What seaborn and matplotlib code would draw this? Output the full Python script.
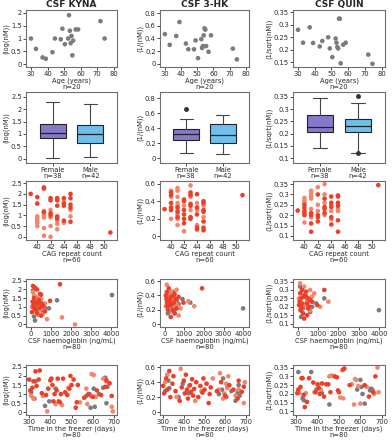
import numpy as np
import pandas as pd
import seaborn as sns
import matplotlib
matplotlib.use("Agg")
import matplotlib.pyplot as plt

sns.set_style("white")
plt.rcParams['font.family'] = ['DejaVu Sans']

GREY = "#7b7b7b"
RED = "#ef3e26"
PINK = "#f4856c"
PURPLE = "#8878c8"
BLUE = "#6fc0ec"

titles = ["CSF KYNA", "CSF 3-HK", "CSF QUIN"]
ylabels = ["(log(nM))", "(1/(nM))", "(1/sqrt(nM))"]

# ---- row 1: age (n=20)
age = [30, 33, 37, 39, 43, 44.5, 48, 49, 50.5, 52.5, 53, 53.5, 54, 54.5, 55, 55.5, 57, 58.5, 72, 74.5]
age_kyna = [1.0, 0.6, 0.27, 0.22, 0.47, 1.0, 0.97, 1.38, 0.78, 1.0, 1.9, 1.3, 0.82, 1.1, 0.35, 0.92, 1.35, 1.35, 1.67, 1.0]
age_3hk = [0.47, 0.3, 0.44, 0.66, 0.32, 0.23, 0.23, 0.37, 0.09, 0.39, 0.25, 0.28, 0.45, 0.56, 0.54, 0.28, 0.19, 0.45, 0.24, 0.07]
age_quin = [0.28, 0.228, 0.29, 0.227, 0.213, 0.235, 0.25, 0.205, 0.17, 0.245, 0.228, 0.21, 0.205, 0.325, 0.325, 0.145, 0.22, 0.228, 0.18, 0.143]

# ---- row 2: sex boxplots (whislo, q1, med, q3, whishi)
sex_labels = ["Female\nn=38", "Male\nn=42"]
box_kyna = [[0.02, 0.85, 1.05, 1.4, 2.3], [0.05, 0.65, 1.0, 1.38, 2.22]]
box_3hk = [[0.07, 0.25, 0.32, 0.39, 0.52], [0.06, 0.20, 0.31, 0.45, 0.58]]
box_quin = [[0.143, 0.208, 0.228, 0.275, 0.345], [0.122, 0.208, 0.232, 0.26, 0.327]]
fliers_kyna = [[], []]
fliers_3hk = [[0.66], []]
fliers_quin = [[], [0.352, 0.12]]

# ---- row 3: CAG repeat count (n=60)
cag_kyna_red = [(39, 2.0), (40, 1.85), (40, 1.55), (41, 2.3), (41, 2.25), (41, 1.15), (42, 1.8), (42, 1.7), (42, 1.1), (42, 1.0),
                (43, 1.8), (43, 1.7), (43, 1.45), (43, 0.95), (43, 0.85), (44, 1.8), (44, 1.55), (44, 1.45), (44, 0.75),
                (45, 2.0), (45, 1.8), (45, 1.5), (45, 1.35), (45, 0.7), (51, 0.2)]
cag_kyna_pink = [(40, 0.95), (40, 0.85), (40, 0.75), (40, 0.65), (40, 0.5), (41, 1.2), (41, 1.1), (41, 1.0), (41, 0.9),
                 (41, 0.4), (41, 0.05), (42, 1.25), (42, 0.9), (42, 0.5), (42, 0.0), (43, 0.75), (43, 0.6), (43, 0.35),
                 (44, 1.65), (44, 0.65), (45, 1.25), (45, 0.95)]
cag_3hk_red = [(39, 0.31), (40, 0.5), (40, 0.47), (40, 0.38), (40, 0.33), (40, 0.3), (41, 0.33), (41, 0.28), (41, 0.22),
               (42, 0.42), (42, 0.4), (42, 0.3), (42, 0.25), (42, 0.2), (42, 0.15), (43, 0.5), (43, 0.47), (43, 0.37),
               (43, 0.35), (43, 0.22), (43, 0.2), (44, 0.48), (44, 0.33), (44, 0.25), (44, 0.1), (44, 0.08),
               (45, 0.4), (45, 0.38), (45, 0.3), (45, 0.28), (45, 0.17), (45, 0.1), (45, 0.07), (51, 0.47)]
cag_3hk_pink = [(40, 0.52), (40, 0.45), (40, 0.2), (41, 0.55), (41, 0.52), (41, 0.45), (41, 0.38), (41, 0.35), (41, 0.3),
                (41, 0.25), (41, 0.2), (41, 0.13), (42, 0.35), (42, 0.06), (43, 0.58), (43, 0.45), (43, 0.3),
                (44, 0.38), (44, 0.3), (44, 0.13), (45, 0.35), (45, 0.22)]
cag_quin_red = [(39, 0.222), (40, 0.25), (40, 0.235), (40, 0.22), (40, 0.21), (40, 0.2), (41, 0.21), (41, 0.2), (41, 0.16),
                (41, 0.12), (42, 0.3), (42, 0.2), (42, 0.19), (42, 0.17), (43, 0.28), (43, 0.24), (43, 0.23), (43, 0.21),
                (44, 0.29), (44, 0.26), (44, 0.24), (44, 0.19), (44, 0.155), (45, 0.295), (45, 0.29), (45, 0.26),
                (45, 0.245), (45, 0.175), (45, 0.12), (51, 0.345)]
cag_quin_pink = [(40, 0.283), (40, 0.27), (40, 0.26), (40, 0.165), (41, 0.318), (41, 0.305), (41, 0.29), (41, 0.28),
                 (41, 0.23), (41, 0.19), (42, 0.335), (42, 0.25), (42, 0.22), (43, 0.35), (43, 0.3), (43, 0.26),
                 (43, 0.2), (44, 0.25), (44, 0.22), (44, 0.18), (45, 0.23), (45, 0.22)]

# ---- row 4: CSF haemoglobin (n=80)
hb_kyna_grey = [(4050, 1.68), (1300, 1.38), (900, 0.92), (700, 0.95), (500, 1.25), (300, 1.3), (200, 0.22), (150, 0.45),
                (100, 1.95), (600, 0.7), (400, 0.88), (250, 1.05)]
hb_kyna_red = [(1450, 2.3), (950, 1.35), (100, 2.2), (200, 2.1), (300, 2.0), (450, 1.75), (500, 1.7), (150, 1.5), (80, 1.3),
               (120, 1.1), (350, 1.2), (600, 1.05), (250, 0.85), (50, 0.7), (500, 0.5), (700, 0.75), (400, 1.4),
               (300, 0.65), (150, 0.95), (550, 1.15), (200, 1.25), (450, 0.95)]
hb_kyna_pink = [(2200, 0.0), (1550, 0.4), (800, 0.3), (600, 0.6), (100, 1.85), (300, 1.55), (400, 0.8), (50, 1.0),
                (200, 0.9), (350, 0.55), (700, 1.2), (450, 1.1), (500, 1.45), (250, 0.75), (150, 1.65), (600, 0.95)]
hb_3hk_grey = [(4000, 0.22), (1300, 0.3), (900, 0.35), (700, 0.28), (500, 0.2), (300, 0.25), (200, 0.4), (150, 0.15),
               (100, 0.3), (600, 0.33), (400, 0.45), (250, 0.18)]
hb_3hk_red = [(1900, 0.5), (950, 0.3), (100, 0.45), (200, 0.5), (300, 0.38), (450, 0.3), (500, 0.42), (150, 0.2), (80, 0.35),
              (120, 0.25), (350, 0.28), (600, 0.22), (250, 0.33), (50, 0.4), (500, 0.15), (700, 0.38), (400, 0.2),
              (300, 0.1), (150, 0.3), (550, 0.35), (200, 0.27), (450, 0.4)]
hb_3hk_pink = [(1200, 0.32), (1500, 0.25), (800, 0.22), (600, 0.48), (100, 0.55), (300, 0.45), (400, 0.35), (50, 0.25),
               (200, 0.36), (350, 0.18), (700, 0.12), (450, 0.26), (500, 0.3), (250, 0.42), (150, 0.38), (600, 0.27)]
hb_quin_grey = [(4000, 0.18), (1300, 0.25), (900, 0.22), (700, 0.2), (500, 0.24), (300, 0.21), (200, 0.3), (150, 0.14),
                (100, 0.32), (600, 0.17), (400, 0.26), (250, 0.19)]
hb_quin_red = [(1300, 0.3), (950, 0.21), (100, 0.28), (200, 0.3), (300, 0.26), (450, 0.22), (500, 0.25), (150, 0.2),
               (80, 0.23), (120, 0.18), (350, 0.27), (600, 0.24), (250, 0.16), (50, 0.21), (500, 0.19), (700, 0.23),
               (400, 0.29), (300, 0.13), (150, 0.25), (550, 0.2), (200, 0.22), (450, 0.15)]
hb_quin_pink = [(1100, 0.2), (1500, 0.23), (800, 0.28), (600, 0.3), (100, 0.34), (300, 0.32), (400, 0.22), (50, 0.25),
                (200, 0.17), (350, 0.21), (700, 0.26), (450, 0.24), (500, 0.2), (250, 0.27), (150, 0.22), (600, 0.18)]

# ---- row 5: time in freezer (n=80)
frz_kyna_red = [(300, 1.8), (305, 1.2), (315, 1.35), (320, 1.7), (330, 2.25), (335, 1.45), (345, 1.8), (350, 2.3), (360, 1.05),
                (380, 0.95), (390, 1.3), (400, 1.75), (405, 1.85), (410, 1.5), (415, 0.6), (420, 1.0), (430, 1.2),
                (435, 1.85), (440, 0.6), (445, 0.55), (450, 1.0), (460, 1.85), (470, 1.1), (480, 0.95), (490, 1.3),
                (495, 2.0), (500, 1.5), (510, 1.8), (520, 0.25), (525, 0.55), (530, 1.5), (560, 0.8), (580, 1.0),
                (600, 0.85), (620, 1.2), (640, 0.95), (660, 1.4), (665, 1.75), (680, 1.6), (690, 0.9)]
frz_kyna_pink = [(310, 0.9), (320, 0.75), (365, 0.9), (385, 0.05), (425, 0.45), (455, 0.4), (485, 1.35), (540, 0.55),
                 (570, 1.3), (575, 0.45), (590, 0.9), (595, 2.1), (605, 2.05), (610, 0.85), (615, 0.85), (650, 1.85),
                 (665, 1.7), (690, 0.3), (695, 0.05)]
frz_kyna_grey = [(310, 1.1), (325, 0.75), (330, 1.7), (375, 0.35), (425, 1.3), (395, 0.6), (570, 0.9), (585, 1.0),
                 (590, 0.25), (605, 1.3), (610, 0.3), (630, 1.0), (650, 1.35), (660, 1.9), (665, 0.5), (670, 1.4)]
frz_3hk_red = [(300, 0.35), (305, 0.25), (315, 0.45), (320, 0.3), (330, 0.55), (335, 0.2), (345, 0.38), (350, 0.48),
               (360, 0.28), (380, 0.15), (390, 0.33), (400, 0.42), (405, 0.25), (410, 0.5), (415, 0.3), (420, 0.18),
               (430, 0.36), (435, 0.27), (440, 0.44), (445, 0.22), (450, 0.31), (460, 0.4), (470, 0.2), (480, 0.35),
               (490, 0.26), (495, 0.45), (500, 0.3), (510, 0.38), (520, 0.12), (525, 0.24), (530, 0.33), (560, 0.28),
               (580, 0.4), (600, 0.22), (620, 0.36), (640, 0.3), (660, 0.18), (665, 0.42), (680, 0.27), (690, 0.34)]
frz_3hk_pink = [(310, 0.4), (320, 0.5), (365, 0.2), (385, 0.58), (425, 0.35), (455, 0.15), (485, 0.28), (540, 0.45),
                (570, 0.3), (575, 0.52), (590, 0.18), (595, 0.25), (605, 0.38), (610, 0.32), (615, 0.48), (650, 0.22),
                (665, 0.3), (690, 0.12), (695, 0.4)]
frz_3hk_grey = [(310, 0.28), (325, 0.42), (330, 0.32), (375, 0.2), (425, 0.25), (395, 0.38), (570, 0.24), (585, 0.3),
                (590, 0.45), (605, 0.2), (610, 0.35), (630, 0.28), (650, 0.15), (660, 0.26), (665, 0.36), (670, 0.22)]
frz_quin_grey = [(310, 0.325), (330, 0.175), (335, 0.165), (370, 0.325), (395, 0.225), (420, 0.205), (455, 0.14), (585, 0.225),
                 (600, 0.28), (605, 0.24), (610, 0.2), (620, 0.145), (645, 0.22), (650, 0.23), (655, 0.225)]
frz_quin_red = [(305, 0.205), (310, 0.225), (320, 0.24), (325, 0.29), (330, 0.29), (335, 0.195), (340, 0.125), (350, 0.155),
                (360, 0.29), (380, 0.265), (390, 0.21), (400, 0.255), (405, 0.235), (410, 0.2), (420, 0.26), (430, 0.185),
                (440, 0.255), (450, 0.255), (460, 0.21), (480, 0.3), (490, 0.295), (495, 0.22), (500, 0.21), (520, 0.34),
                (525, 0.345), (550, 0.25), (620, 0.25), (640, 0.185), (660, 0.21), (670, 0.3)]
frz_quin_pink = [(315, 0.205), (345, 0.205), (385, 0.21), (415, 0.225), (455, 0.3), (465, 0.305), (505, 0.18), (515, 0.335),
                 (520, 0.175), (560, 0.255), (570, 0.14), (575, 0.285), (580, 0.28), (590, 0.245), (600, 0.145),
                 (630, 0.24), (665, 0.2), (680, 0.35), (685, 0.21)]

# axes placement in pixels: (left, right) per column, (top, bottom) per row
W, H = 392, 440
cols_px = [(26, 117), (160, 249), (293, 385)]
rows_px = [(10, 67), (92, 163), (181, 240), (279, 327), (365, 415)]

fig = plt.figure(figsize=(W / 100, H / 100), dpi=100)
FS = 4.9
TXT = "#2a2a2a"


def make_ax(r, c):
    l, rr = cols_px[c]
    t, b = rows_px[r]
    ax = fig.add_axes([l / W, 1 - b / H, (rr - l) / W, (b - t) / H])
    for s in ax.spines.values():
        s.set_color("#6f6f6f")
        s.set_linewidth(0.8)
    ax.tick_params(axis="both", which="both", direction="out", length=2, width=0.6,
                   labelsize=FS, pad=1, colors=TXT, bottom=True, left=True)
    return ax


def set_y(ax, c, ticks, lims):
    ax.set_ylim(*lims)
    ax.set_yticks(ticks)
    ax.set_yticklabels([f"{v:g}" for v in ticks])
    ax.set_ylabel(ylabels[c], fontsize=FS, labelpad=1, color=TXT)


def set_xlab(ax, text):
    ax.set_xlabel(text, fontsize=FS, labelpad=0.5, linespacing=0.95, color=TXT)


def scatter(ax, groups):
    frames = []
    for name, pts in groups:
        d = pd.DataFrame(pts, columns=["x", "y"])
        d["g"] = name
        frames.append(d)
    df = pd.concat(frames, ignore_index=True)
    pal = {"grey": GREY, "red": RED, "pink": PINK}
    sns.scatterplot(data=df, x="x", y="y", hue="g", palette=pal, s=11, linewidth=0, legend=False, ax=ax)


age_ylims = [(-0.1, 2.1), (-0.05, 0.85), (0.13, 0.36)]
age_yticks = [[0, 0.5, 1, 1.5, 2], [0, 0.2, 0.4, 0.6, 0.8], [0.15, 0.2, 0.25, 0.3, 0.35]]
full_ylims = [(-0.18, 2.7), (-0.06, 0.88), (0.08, 0.37)]
full_yticks = [[0, 0.5, 1, 1.5, 2, 2.5], [0, 0.2, 0.4, 0.6, 0.8], [0.1, 0.15, 0.2, 0.25, 0.3, 0.35]]
pt_ylims = [(-0.15, 2.6), (-0.04, 0.63), (0.08, 0.365)]
pt_yticks = [[0, 0.5, 1, 1.5, 2, 2.5], [0, 0.2, 0.4, 0.6], [0.1, 0.15, 0.2, 0.25, 0.3, 0.35]]

# row 1
for c, vals in enumerate([age_kyna, age_3hk, age_quin]):
    ax = make_ax(0, c)
    scatter(ax, [("grey", list(zip(age, vals)))])
    ax.set_xlim(27, 82)
    ax.set_xticks([30, 40, 50, 60, 70, 80])
    set_y(ax, c, age_yticks[c], age_ylims[c])
    set_xlab(ax, "Age (years)\nn=20")
    ax.set_title(titles[c], fontsize=6.5, fontweight="bold", pad=2)

# row 2
for c, (boxes, fl) in enumerate([(box_kyna, fliers_kyna), (box_3hk, fliers_3hk), (box_quin, fliers_quin)]):
    ax = make_ax(1, c)
    stats = []
    for b, f in zip(boxes, fl):
        stats.append(dict(whislo=b[0], q1=b[1], med=b[2], q3=b[3], whishi=b[4], fliers=f))
    bp = ax.bxp(stats, positions=[0, 1], widths=0.7, patch_artist=True, showfliers=True,
                boxprops=dict(linewidth=0.8, edgecolor="#222222"),
                medianprops=dict(color="#222222", linewidth=0.9),
                whiskerprops=dict(color="#444444", linewidth=0.8),
                capprops=dict(color="#444444", linewidth=0.8),
                flierprops=dict(marker="o", markersize=2.5, markerfacecolor="#333333",
                                markeredgecolor="#333333"))
    for patch, col in zip(bp["boxes"], [PURPLE, BLUE]):
        patch.set_facecolor(col)
    ax.set_xlim(-0.71, 1.71)
    set_y(ax, c, full_yticks[c], full_ylims[c])
    ax.set_xticks([0, 1])
    ax.set_xticklabels(sex_labels, fontsize=FS, linespacing=0.95)

# row 3
cag_sets = [(cag_kyna_red, cag_kyna_pink), (cag_3hk_red, cag_3hk_pink), (cag_quin_red, cag_quin_pink)]
for c, (red, pink) in enumerate(cag_sets):
    ax = make_ax(2, c)
    scatter(ax, [("pink", pink), ("red", red)])
    ax.set_xlim(38.3, 52)
    ax.set_xticks([40, 42, 44, 46, 48, 50])
    set_y(ax, c, pt_yticks[c], pt_ylims[c])
    set_xlab(ax, "CAG repeat count\nn=60")

# row 4
hb_sets = [(hb_kyna_grey, hb_kyna_red, hb_kyna_pink), (hb_3hk_grey, hb_3hk_red, hb_3hk_pink),
           (hb_quin_grey, hb_quin_red, hb_quin_pink)]
for c, (grey, red, pink) in enumerate(hb_sets):
    ax = make_ax(3, c)
    scatter(ax, [("grey", grey), ("pink", pink), ("red", red)])
    ax.set_xlim(-250, 4300)
    ax.set_xticks([0, 1000, 2000, 3000, 4000])
    set_y(ax, c, pt_yticks[c], pt_ylims[c])
    set_xlab(ax, "CSF haemoglobin (ng/mL)\nn=80")

# row 5
frz_sets = [(frz_kyna_grey, frz_kyna_red, frz_kyna_pink), (frz_3hk_grey, frz_3hk_red, frz_3hk_pink),
            (frz_quin_grey, frz_quin_red, frz_quin_pink)]
for c, (grey, red, pink) in enumerate(frz_sets):
    ax = make_ax(4, c)
    scatter(ax, [("grey", grey), ("pink", pink), ("red", red)])
    ax.set_xlim(285, 715)
    ax.set_xticks([300, 400, 500, 600, 700])
    set_y(ax, c, pt_yticks[c], pt_ylims[c])
    set_xlab(ax, "Time in the freezer (days)\nn=80")

fig.savefig("out.png", dpi=100)
